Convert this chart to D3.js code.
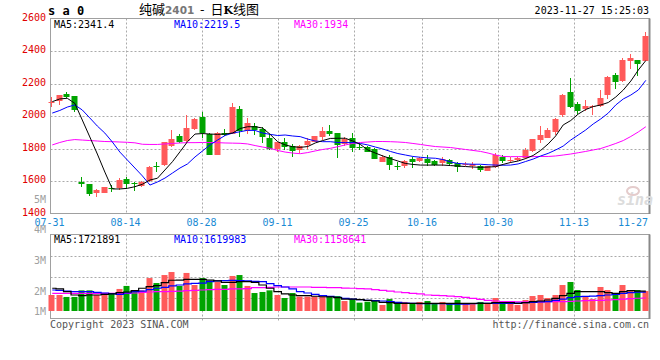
<!DOCTYPE html>
<html><head><meta charset="utf-8">
<script src="https://cdn.jsdelivr.net/npm/d3@7/dist/d3.min.js"></script>
<style>
body{margin:0;background:#fff}
svg{display:block}
text{font-family:"DejaVu Sans Mono",monospace}
</style>
</head><body>
<svg id="c" width="660" height="360"></svg>
<script>
// ---------------- data ----------------
const dates = ["07-31","08-01","08-02","08-03","08-04","08-07","08-08","08-09","08-10","08-11",
"08-14","08-15","08-16","08-17","08-18","08-21","08-22","08-23","08-24","08-25",
"08-28","08-29","08-30","08-31","09-01","09-04","09-05","09-06","09-07","09-08",
"09-11","09-12","09-13","09-14","09-15","09-18","09-19","09-20","09-21","09-22",
"09-25","09-26","09-27","09-28","10-09","10-10","10-11","10-12","10-13","10-16",
"10-17","10-18","10-19","10-20","10-23","10-24","10-25","10-26","10-27","10-30",
"10-31","11-01","11-02","11-03","11-06","11-07","11-08","11-09","11-10","11-13",
"11-14","11-15","11-16","11-17","11-20","11-21","11-22","11-23","11-24","11-27"];

const openP = [2082,2094,2135,2125,1596,1580,1524,1528,1558,1555,1610,1585,1571,1602,1695,1697,1817,1877,1846,1918,
1996,1887,1760,1898,1889,2043,1908,1937,1920,1863,1797,1838,1817,1791,1822,1842,1873,1908,1893,1826,
1863,1812,1808,1795,1719,1750,1695,1694,1735,1725,1733,1723,1709,1729,1709,1700,1692,1692,1662,1684,
1750,1726,1729,1740,1785,1852,1866,1904,2006,2146,2072,2041,2055,2062,2129,2252,2217,2340,2345,2338];
const highP = [2115,2130,2148,2126,1623,1582,1553,1565,1573,1616,1626,1596,1600,1690,1717,1840,1914,1889,2006,1985,
2026,1898,1900,1918,2080,2063,1990,1957,1930,1891,1842,1866,1828,1820,1863,1880,1930,1945,1897,1873,
1897,1832,1815,1805,1760,1760,1719,1730,1745,1750,1760,1730,1750,1735,1719,1717,1715,1700,1695,1770,
1760,1750,1750,1801,1860,1940,1926,1986,2134,2236,2088,2098,2068,2160,2246,2266,2355,2380,2345,2518];
const lowP = [2054,2068,2110,2026,1561,1508,1503,1526,1532,1545,1551,1540,1566,1595,1655,1690,1811,1836,1842,1914,
1866,1760,1760,1877,1889,1873,1887,1883,1832,1791,1777,1791,1750,1775,1795,1840,1852,1877,1743,1815,
1780,1791,1778,1737,1719,1668,1668,1680,1680,1716,1692,1692,1695,1700,1657,1690,1672,1655,1660,1678,
1709,1709,1723,1735,1780,1832,1862,1883,1996,2051,2010,2031,2006,2057,2105,2166,2211,2289,2248,2338];
const closeP = [2086,2127,2115,2037,1580,1520,1545,1563,1553,1606,1583,1580,1594,1684,1690,1838,1857,1842,1926,1980,
1894,1760,1893,1882,2055,1908,1957,1916,1869,1795,1842,1811,1786,1815,1846,1877,1910,1891,1822,1857,
1801,1806,1780,1737,1750,1698,1692,1723,1719,1743,1709,1698,1735,1705,1688,1705,1705,1668,1692,1760,
1725,1730,1743,1791,1858,1883,1914,1982,2129,2057,2033,2062,2060,2109,2238,2207,2345,2359,2320,2492];

const ma5 = [2088,2105,2109,2078,1975,1871,1766,1655,1551,1551,1555,1565,1580,1606,1617,1668,1719,1780,1842,1889,
1892,1889,1887,1889,1895,1923,1934,1934,1926,1887,1842,1822,1811,1807,1812,1834,1849,1862,1863,1863,
1846,1825,1791,1772,1754,1738,1723,1708,1702,1698,1698,1698,1698,1695,1692,1689,1686,1684,1686,1688,
1702,1714,1723,1738,1757,1788,1828,1877,1945,1972,2012,2040,2058,2068,2083,2117,2160,2215,2283,2341.4];
const ma10 = [2018,2034,2055,2068,2037,1988,1938,1895,1840,1778,1729,1680,1631,1575,1594,1618,1649,1680,1705,1748,
1785,1822,1852,1880,1895,1903,1912,1911,1895,1887,1880,1883,1877,1873,1858,1846,1842,1842,1837,1836,
1837,1831,1822,1809,1797,1782,1769,1760,1751,1746,1742,1740,1732,1717,1708,1705,1703,1703,1700,1698,
1697,1698,1705,1720,1735,1754,1770,1791,1815,1852,1883,1914,1951,1982,2018,2068,2105,2129,2160,2219.5];
const ma30 = [1822,1837,1849,1855,1852,1849,1846,1843,1842,1840,1838,1835,1826,1825,1825,1828,1831,1834,1836,1836,
1837,1837,1836,1834,1833,1832,1828,1818,1809,1801,1788,1778,1772,1768,1775,1785,1794,1801,1811,1822,
1831,1837,1840,1843,1843,1842,1840,1837,1831,1825,1818,1812,1809,1806,1800,1794,1788,1782,1772,1760,
1751,1750,1750,1750,1750,1751,1751,1754,1760,1766,1774,1782,1791,1800,1815,1831,1849,1874,1902,1934];

// volume in millions of lots
const volumeM = [1.38,1.38,1.21,1.21,1.78,1.78,1.38,1.49,1.49,1.90,2.16,1.78,1.78,2.84,2.41,3.10,3.36,2.16,3.28,2.24,
2.84,2.50,2.50,2.24,3.02,3.10,2.16,1.55,1.64,1.78,1.38,1.12,1.55,1.24,1.24,1.24,1.24,1.20,1.29,0.86,
1.03,0.72,0.80,0.86,0.52,1.03,0.78,0.78,0.66,0.78,0.86,0.66,0.78,0.66,0.95,0.66,0.66,0.78,0.66,1.12,
0.66,0.78,0.52,0.95,1.29,1.38,1.12,1.38,2.24,2.50,1.81,1.29,1.03,2.07,1.81,1.55,2.24,1.72,1.81,1.72];
const volMa5 = [1.96,1.90,1.67,1.38,1.32,1.38,1.38,1.44,1.47,1.58,1.64,1.75,1.96,2.10,2.18,2.44,2.65,2.67,2.73,2.73,
2.73,2.67,2.59,2.47,2.47,2.53,2.53,2.47,2.24,1.96,1.67,1.47,1.38,1.32,1.32,1.27,1.23,1.21,1.15,1.03,
1.03,0.98,0.92,0.86,0.75,0.72,0.66,0.66,0.66,0.66,0.66,0.66,0.66,0.66,0.66,0.66,0.66,0.66,0.66,0.72,
0.72,0.72,0.66,0.72,0.80,0.86,0.95,1.09,1.32,1.52,1.67,1.67,1.67,1.67,1.58,1.52,1.67,1.75,1.72,1.72];
const volMa10 = [1.81,1.78,1.72,1.67,1.67,1.67,1.61,1.55,1.49,1.44,1.55,1.67,1.72,1.84,1.96,2.04,2.16,2.24,2.33,2.39,
2.41,2.53,2.59,2.61,2.64,2.61,2.59,2.56,2.53,2.36,2.18,2.07,1.90,1.67,1.55,1.44,1.32,1.26,1.18,1.09,
1.03,0.98,0.92,0.89,0.86,0.80,0.75,0.69,0.66,0.63,0.63,0.63,0.63,0.60,0.60,0.60,0.63,0.66,0.66,0.66,
0.66,0.66,0.69,0.72,0.75,0.78,0.80,0.92,1.03,1.15,1.24,1.26,1.29,1.32,1.38,1.44,1.52,1.58,1.62,1.62];
const volMa30 = [1.52,1.52,1.52,1.52,1.52,1.52,1.52,1.52,1.52,1.52,1.52,1.55,1.61,1.64,1.67,1.67,1.69,1.72,1.75,1.78,
1.81,1.84,1.87,1.87,1.90,1.90,1.93,2.01,2.01,2.04,2.07,2.07,2.07,2.07,2.07,2.04,2.04,2.01,2.01,1.98,
1.96,1.93,1.90,1.84,1.78,1.72,1.64,1.58,1.52,1.47,1.38,1.35,1.32,1.29,1.24,1.18,1.09,1.01,0.92,0.86,
0.80,0.80,0.78,0.78,0.75,0.78,0.80,0.80,0.80,0.83,0.86,0.89,0.92,0.92,0.95,0.98,1.03,1.06,1.10,1.12];

const priceTicks = [2600,2400,2200,2000,1800,1600,1400];
const dateTicks = ["07-31","08-14","08-28","09-11","09-25","10-16","10-30","11-13","11-27"];
const volTickLabels = ["5M","4M","3M","2M","1M"];
const volGridRows = [1, 2, 3];
const priceLegend = [["MA5:2341.4","#000"],["MA10:2219.5","#0000ff"],["MA30:1934","#ff00ff"]];
const volLegend = [["MA5:1721891","#000"],["MA10:1619983","#0000ff"],["MA30:1158641","#ff00ff"]];

// ---------------- layout ----------------
const RED = "#ff5a5a", GREEN = "#00a400";
const svg = d3.select("#c");
const L = 50.5, R = 649.5;
const pTop = 18.5, pBot = 213.5, vTop = 234.5, vBot = 318.5, vBase = 311;

const x = d3.scaleBand().domain(dates).range([48.5, 649.6]).paddingInner(0.2).paddingOuter(0.1);
const xg = d3.scalePoint().domain(dates).range([49.5, 650]);
const y = d3.scaleLinear().domain([1400, 2600]).range([pBot, pTop]);
const yv = d3.scaleLinear().domain([0, 4]).range([vBase, vBase - 46.4]);
const bw = x.bandwidth();
const cx = d => x(d) + bw / 2;

svg.append("rect").attr("width", 660).attr("height", 360).attr("fill", "#fff");

const grid = svg.append("g").attr("stroke", "#aaa").attr("stroke-dasharray", "2,2").attr("stroke-width", 1);
grid.selectAll("line.ph").data(priceTicks.slice(1, -1)).join("line").attr("class","ph")
  .attr("x1", L).attr("x2", R).attr("y1", d => Math.round(y(d)) + 0.5).attr("y2", d => Math.round(y(d)) + 0.5);
const vgrid = dateTicks.slice(1, -1);
grid.selectAll("line.pv").data(vgrid).join("line").attr("class","pv")
  .attr("x1", d => Math.round(xg(d)) + 0.5).attr("x2", d => Math.round(xg(d)) + 0.5)
  .attr("y1", pTop).attr("y2", pBot);
grid.selectAll("line.vv").data(vgrid).join("line").attr("class","vv")
  .attr("x1", d => Math.round(xg(d)) + 0.5).attr("x2", d => Math.round(xg(d)) + 0.5)
  .attr("y1", vTop).attr("y2", vBot + 4);
const vRow = d3.scaleLinear().domain([0, 4]).range([vTop, vBot]);
grid.selectAll("line.vh").data(volGridRows).join("line").attr("class","vh")
  .attr("x1", L).attr("x2", R).attr("y1", d => Math.round(vRow(d)) + 0.5).attr("y2", d => Math.round(vRow(d)) + 0.5);

[[pTop, pBot], [vTop, vBot]].forEach(([t, b]) => {
  svg.append("rect").attr("x", L).attr("y", t).attr("width", R - L).attr("height", b - t)
    .attr("fill", "none").attr("stroke", "#a0a0a0");
  svg.append("line").attr("x1", R).attr("x2", R).attr("y1", t).attr("y2", b + 0.5)
    .attr("stroke", "#888").attr("stroke-width", 2);
});

// watermark
const wm = svg.append("g").attr("fill", "#dcdcdc");
wm.append("text").attr("x", 617).attr("y", 205).attr("font-family", "DejaVu Sans").attr("font-style", "italic")
  .attr("font-weight", "bold").attr("font-size", 15).text("sina");
wm.append("ellipse").attr("cx", 633).attr("cy", 191).attr("rx", 6).attr("ry", 4)
  .attr("fill", "none").attr("stroke", "#e4cccc").attr("stroke-width", 2);

// candles
const idx = d3.range(dates.length);
const up = i => closeP[i] >= openP[i];
const cg = svg.append("g");
cg.selectAll("rect.w").data(idx).join("rect").attr("class","w")
  .attr("x", i => Math.round(x(dates[i])) + 2).attr("width", 1)
  .attr("y", i => Math.round(y(highP[i]))).attr("height", i => Math.max(1, Math.round(y(lowP[i])) - Math.round(y(highP[i]))))
  .attr("fill", i => up(i) ? RED : GREEN);
cg.selectAll("rect.b").data(idx).join("rect").attr("class","b")
  .attr("x", i => Math.round(x(dates[i])) - 0.5).attr("width", 6)
  .attr("y", i => Math.round(y(Math.max(openP[i], closeP[i]))))
  .attr("height", i => Math.max(1, Math.round(y(Math.min(openP[i], closeP[i]))) - Math.round(y(Math.max(openP[i], closeP[i])))))
  .attr("fill", i => up(i) ? RED : GREEN);

const pline = d3.line().x((d, i) => cx(dates[i])).y(d => y(d));
[[ma30, "#ff00ff"], [ma10, "#0000ff"], [ma5, "#000"]].forEach(([s, c]) => {
  svg.append("path").attr("d", pline(s)).attr("fill", "none").attr("stroke", c).attr("stroke-width", 1);
});

// volume
svg.append("g").selectAll("rect").data(idx).join("rect")
  .attr("x", i => Math.round(x(dates[i])) - 0.5).attr("width", 6)
  .attr("y", i => yv(volumeM[i])).attr("height", i => vBase - yv(volumeM[i]))
  .attr("fill", i => up(i) ? RED : GREEN);
const vline = d3.line().x((d, i) => cx(dates[i])).y(d => yv(d)).curve(d3.curveStep);
[[volMa30, "#ff00ff"], [volMa10, "#0000ff"], [volMa5, "#000"]].forEach(([s, c]) => {
  svg.append("path").attr("d", vline(s)).attr("fill", "none").attr("stroke", c).attr("stroke-width", 1.2);
});

// axis labels
svg.append("g").selectAll("text").data(priceTicks).join("text")
  .attr("x", 46).attr("y", d => y(d) + 2).attr("text-anchor", "end")
  .attr("font-size", 10).attr("fill", "#e00000").text(d => d);
const vlab = d3.scalePoint().domain(volTickLabels).range([199, 322]);
svg.append("g").selectAll("text").data(volTickLabels).join("text")
  .attr("x", 46).attr("y", d => Math.min(vlab(d), 311.7) + 3.6).attr("text-anchor", "end")
  .attr("font-size", 10).attr("fill", "#a0a0a0").text(d => d);
svg.append("g").selectAll("text").data(dateTicks).join("text")
  .attr("x", (d, i) => i === dateTicks.length - 1 ? 648 : xg(d))
  .attr("y", 225.5)
  .attr("text-anchor", (d, i) => i === dateTicks.length - 1 ? "end" : "middle")
  .attr("font-size", 10).attr("fill", "#1a8ad4").text(d => d);

// legends
const legX = d3.scalePoint().domain([0, 1, 2]).range([54, 294]);
svg.append("g").selectAll("text").data(priceLegend).join("text")
  .attr("x", (d, i) => legX(i)).attr("y", 27.5).attr("font-size", 10).attr("fill", d => d[1]).text(d => d[0]);
svg.append("g").selectAll("text").data(volLegend).join("text")
  .attr("x", (d, i) => legX(i)).attr("y", 242.5).attr("font-size", 10).attr("fill", d => d[1]).text(d => d[0]);

// header
svg.append("text").attr("x", 48).attr("y", 14.5).attr("font-size", 12).attr("font-weight", "bold").text("s a 0");
const title = svg.append("text").attr("x", 139).attr("y", 14).attr("font-size", 13);
title.append("tspan").attr("font-family", "Noto Sans CJK SC").text("纯碱");
title.append("tspan").attr("font-family", "DejaVu Sans").attr("font-weight", "bold").attr("font-size", 10.5).attr("fill", "#777").text("2401");
title.append("tspan").attr("font-family", "Noto Sans CJK SC").text("\u00a0\u00a0-\u00a0\u00a0日");
title.append("tspan").attr("font-family", "DejaVu Serif").attr("font-weight", "bold").attr("font-size", 11).text("K");
title.append("tspan").attr("font-family", "Noto Sans CJK SC").text("线图");
svg.append("text").attr("x", 649).attr("y", 14).attr("text-anchor", "end").attr("font-size", 10).text("2023-11-27 15:25:03");

// footer
svg.append("text").attr("x", 50).attr("y", 327.5).attr("font-size", 10).attr("fill", "#555").text("Copyright 2023 SINA.COM");
svg.append("text").attr("x", 649).attr("y", 327.5).attr("text-anchor", "end").attr("font-size", 10).attr("fill", "#555").text("http://finance.sina.com.cn");
</script>
</body></html>
